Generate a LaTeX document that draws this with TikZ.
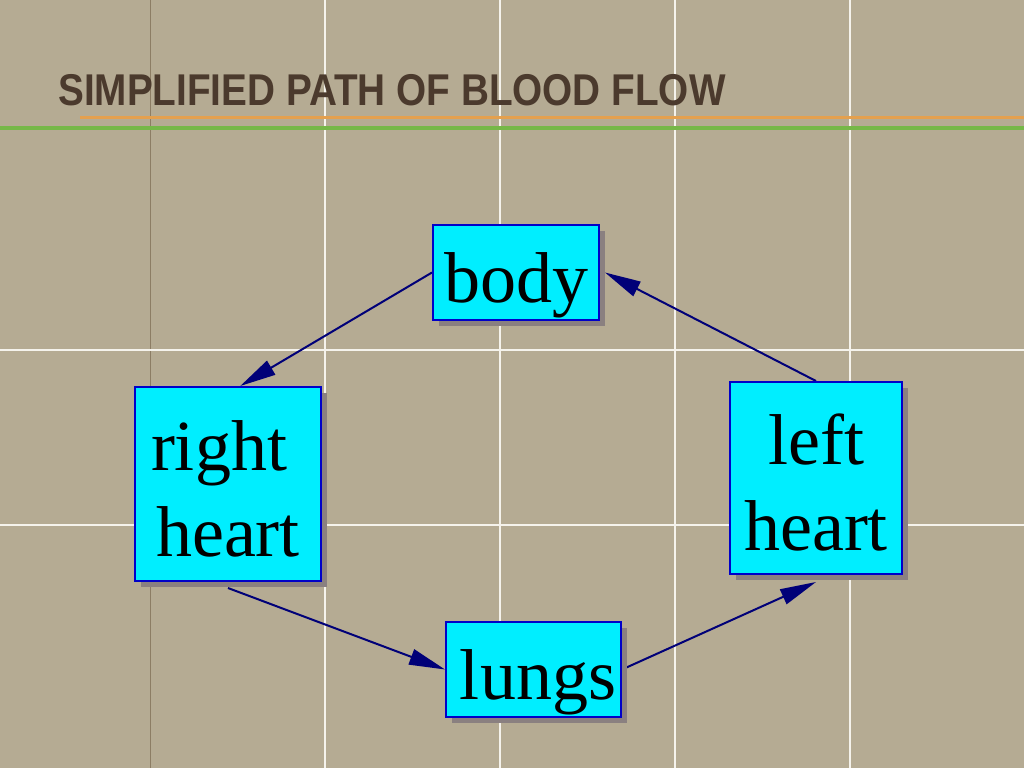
\documentclass[tikz,border=0pt]{standalone}
\usepackage{fontspec}
\setmainfont{Liberation Serif}
\newfontfamily\titlefont{Liberation Sans}
\usetikzlibrary{arrows.meta,shadows,calc}
\definecolor{bgtan}{RGB}{181,171,147}
\definecolor{gridline}{RGB}{245,243,236}
\definecolor{darkline}{RGB}{140,125,100}
\definecolor{boxfill}{RGB}{0,238,255}
\definecolor{boxborder}{RGB}{0,0,200}
\definecolor{shadowgray}{RGB}{138,128,128}
\definecolor{arrowblue}{RGB}{0,0,120}
\definecolor{titlebrown}{RGB}{75,58,45}
\definecolor{orangeline}{RGB}{228,160,78}
\definecolor{greenline}{RGB}{118,184,72}
\pgfdeclarelayer{back}
\pgfdeclarelayer{bg}
\pgfsetlayers{back,bg,main}
\tikzset{
  organ/.style={draw=boxborder, line width=2pt, fill=boxfill, inner sep=0pt,
    drop shadow={shadow xshift=6pt, shadow yshift=-6pt, fill=shadowgray, opacity=1},
    font=\fontsize{72}{86}\selectfont, align=center, text height=61pt, text depth=2pt},
  twoline/.style={text height=147pt},
  flow/.style={draw=arrowblue, line width=2pt, -{Triangle[length=36pt,width=16pt]}},
  whitegrid/.style={draw=gridline, line width=1.5pt},
}
\begin{document}
\begin{tikzpicture}[x=1pt,y=-1pt]
\begin{pgfonlayer}{back}
\fill[bgtan] (0,0) rectangle (1024,768);
\useasboundingbox (0,0) rectangle (1024,768);
\draw[darkline, line width=0.8pt] (150,0) -- (150,768);
\foreach \gx in {325,500,675,850} \draw[whitegrid] (\gx,0) -- (\gx,768);
\foreach \gy in {350,525} \draw[whitegrid] (0,\gy) -- (1024,\gy);
\draw[orangeline, line width=3pt] (80,117) -- (1024,117);
\draw[greenline, line width=3.5pt] (0,128) -- (1024,128);
\end{pgfonlayer}

\node[anchor=base west, text=titlebrown, inner sep=0pt] (title) at (58,105)
  {\scalebox{0.87}[1]{\titlefont\bfseries\fontsize{44.5}{50}\selectfont SIMPLIFIED PATH OF BLOOD FLOW}};

\node[organ, minimum width=166pt, minimum height=95pt] (body) at (516,272.5) {body};
\node[organ, twoline, minimum width=186pt, minimum height=194pt] (rh) at (228,484) {right\kern0.25em\\heart};
\node[organ, twoline, minimum width=172pt, minimum height=192pt] (lh) at (816,478) {left\\heart};
\node[organ, minimum width=175pt, minimum height=95pt] (lungs) at (533.5,669.5) {\kern9pt lungs};

\begin{pgfonlayer}{bg}
\draw[flow] (body.west) -- ($(rh.north west)!0.565!(rh.north east)$);
\draw[flow] (lh.north) -- ([xshift=5pt]body.east);
\draw[flow] ([yshift=-6pt]rh.south) -- (lungs.west);
\draw[flow] (lungs.east) -- ([yshift=-7pt]lh.south);
\end{pgfonlayer}
\end{tikzpicture}
\end{document}
